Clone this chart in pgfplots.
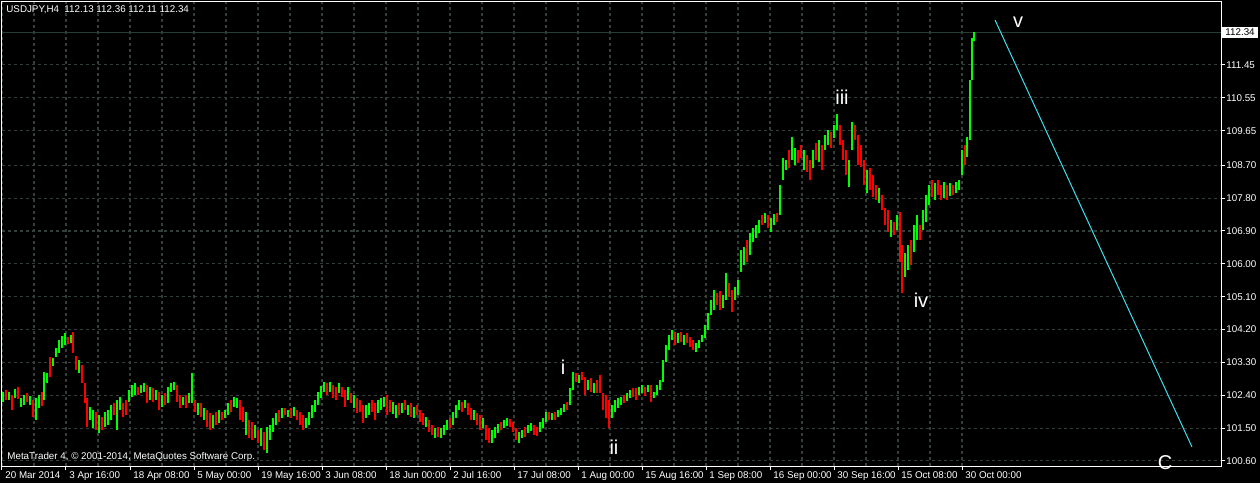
\documentclass[border=0pt]{standalone}
\usepackage{pgfplots}
\usepackage{pgfplotstable}
\pgfplotsset{compat=1.18}
\usepackage{fontspec}
\setmainfont{Liberation Sans}

\definecolor{bull}{RGB}{0,255,0}
\definecolor{bear}{RGB}{255,0,0}
\definecolor{gridc}{RGB}{50,64,57}
\definecolor{bidc}{RGB}{40,62,52}
\definecolor{wave}{RGB}{60,225,240}

% USDJPY H4 bars, x = bar position, lo/hi = price
\pgfplotstableread{
x lo hi
3 102.22 102.49
9 102.27 102.49
15 102.33 102.57
21 102.08 102.33
24 102.14 102.41
30 102.14 102.38
36 101.72 102.33
39 102.05 102.41
44 102.27 103.04
47 102.74 103.01
53 103.20 103.42
56 103.45 103.69
59 103.56 103.91
62 103.69 104.02
65 103.78 104.10
71 103.83 104.05
79 103.01 103.37
90 101.72 102.08
93 101.50 102.00
99 101.37 101.86
105 101.53 101.94
108 101.58 102.00
111 101.72 102.14
117 101.45 102.27
120 102.00 102.35
129 102.22 102.54
132 102.35 102.68
135 102.41 102.74
141 102.46 102.68
144 102.49 102.74
150 102.27 102.63
156 102.27 102.54
162 102.08 102.41
168 102.19 102.63
171 102.49 102.74
174 102.54 102.76
183 102.14 102.35
189 102.19 102.46
192 102.19 103.01
198 101.86 102.19
204 101.72 102.05
213 101.50 101.86
219 101.64 102.00
225 101.78 102.00
228 101.86 102.19
234 102.08 102.35
237 102.05 102.33
246 101.31 101.94
255 101.23 101.59
261 101.01 101.50
267 100.83 101.53
270 101.17 101.59
273 101.39 101.78
276 101.59 101.91
282 101.78 102.05
288 101.81 102.00
294 101.83 102.08
306 101.50 101.78
309 101.58 101.94
312 101.78 102.14
315 101.94 102.27
318 102.14 102.49
321 102.33 102.65
324 102.49 102.76
330 102.49 102.76
339 102.46 102.74
348 102.27 102.63
354 102.05 102.41
366 101.78 102.14
369 101.86 102.19
378 101.91 102.27
381 102.00 102.33
384 102.08 102.35
393 101.89 102.22
396 101.78 102.14
402 101.91 102.19
408 101.86 102.14
414 101.78 102.08
426 101.53 101.81
435 101.23 101.50
441 101.23 101.50
444 101.31 101.59
447 101.45 101.72
453 101.58 101.94
456 101.78 102.14
459 102.00 102.27
465 102.05 102.27
474 101.72 102.00
483 101.50 101.78
492 101.09 101.45
495 101.23 101.53
498 101.37 101.61
504 101.50 101.72
507 101.56 101.78
519 101.09 101.39
522 101.23 101.45
528 101.37 101.59
531 101.42 101.64
540 101.39 101.67
543 101.50 101.78
546 101.67 101.94
552 101.72 101.91
558 101.81 102.00
561 101.86 102.05
564 101.94 102.16
570 102.14 102.60
573 102.54 103.04
579 102.74 102.96
588 102.54 102.82
594 102.46 102.74
612 101.78 102.14
615 101.94 102.27
618 102.05 102.33
621 102.14 102.35
627 102.25 102.46
630 102.33 102.54
639 102.41 102.63
642 102.46 102.68
648 102.49 102.68
654 102.33 102.49
657 102.41 102.68
660 102.54 102.82
663 102.76 103.37
666 103.31 103.78
669 103.64 104.05
672 103.91 104.19
678 103.83 104.10
684 103.78 104.05
696 103.59 103.83
699 103.69 103.91
702 103.86 104.05
705 103.97 104.32
708 104.19 104.65
711 104.60 105.01
714 104.74 105.28
723 104.79 105.15
726 105.01 105.75
735 105.01 105.37
738 105.15 105.56
741 105.78 106.38
744 105.97 106.46
750 106.24 106.84
753 106.60 106.98
756 106.71 107.07
759 106.84 107.20
765 107.12 107.39
771 106.87 107.26
774 107.07 107.37
780 107.34 108.16
783 108.30 108.90
786 108.57 108.85
792 108.85 109.48
795 108.71 109.17
804 108.57 109.12
813 108.63 109.12
819 108.79 109.39
825 109.12 109.53
828 109.26 109.67
834 109.45 109.80
837 109.67 110.11
849 108.11 108.85
852 109.12 109.88
867 107.94 108.57
879 107.67 108.08
891 106.74 107.20
897 106.93 107.34
905 105.64 106.30
908 105.83 106.52
914 106.33 107.07
917 106.65 107.34
923 106.93 107.48
926 107.15 107.89
929 107.61 108.16
935 107.75 108.22
944 107.80 108.24
950 107.86 108.22
956 107.94 108.24
959 108.02 108.30
962 108.44 109.12
967 108.93 109.48
970 109.39 111.04
972 111.04 112.19
974 112.11 112.36
}\upbars

\pgfplotstableread{
x lo hi
6 102.27 102.54
12 102.00 102.41
18 102.30 102.63
27 102.22 102.46
33 101.81 102.27
42 102.11 102.49
50 102.90 103.45
68 103.80 103.99
73 103.56 104.13
76 103.09 103.48
82 102.74 103.23
85 102.19 102.74
87 101.53 102.33
96 101.45 101.94
102 101.45 101.81
114 101.86 102.19
123 101.81 102.19
126 101.86 102.27
138 102.41 102.63
147 102.19 102.68
153 102.22 102.60
159 102.00 102.49
165 102.14 102.46
177 102.22 102.68
180 102.05 102.41
186 102.05 102.41
195 101.94 102.27
201 101.81 102.19
207 101.53 102.00
210 101.45 101.91
216 101.58 101.94
222 101.72 101.94
231 101.94 102.27
240 101.72 102.27
243 101.67 102.08
249 101.23 101.72
252 101.17 101.67
258 101.09 101.45
264 100.90 101.39
279 101.67 102.00
285 101.86 102.05
291 101.78 102.05
297 101.72 102.00
300 101.58 101.94
303 101.45 101.86
327 102.41 102.74
333 102.33 102.68
336 102.27 102.63
342 102.35 102.63
345 102.08 102.54
351 102.19 102.46
357 101.91 102.33
360 101.94 102.27
363 101.64 102.14
372 101.94 102.27
375 101.72 102.19
387 101.86 102.41
390 101.94 102.27
399 101.86 102.19
405 102.00 102.27
411 101.81 102.19
417 101.86 102.14
420 101.67 102.00
423 101.59 101.91
429 101.39 101.72
432 101.31 101.59
438 101.26 101.53
450 101.50 101.78
462 101.94 102.22
468 101.86 102.19
471 101.72 102.05
477 101.58 101.91
480 101.45 101.86
486 101.17 101.59
489 101.09 101.50
501 101.45 101.67
510 101.53 101.75
513 101.39 101.67
516 101.17 101.50
525 101.26 101.53
534 101.31 101.59
537 101.28 101.53
549 101.72 101.94
555 101.72 101.94
567 102.00 102.22
576 102.76 103.01
582 102.82 103.04
585 102.41 102.90
591 102.49 102.87
597 102.46 102.82
600 102.46 102.96
603 102.00 102.46
606 101.78 102.41
609 101.50 102.27
624 102.19 102.41
633 102.35 102.60
636 102.27 102.60
645 102.38 102.63
651 102.22 102.68
675 103.78 104.13
681 103.86 104.13
687 103.83 104.10
690 103.72 103.99
693 103.64 103.91
717 104.87 105.20
720 104.74 105.25
729 105.09 105.48
732 104.68 105.28
747 106.05 106.65
762 107.07 107.34
768 106.98 107.34
777 107.15 107.39
789 108.63 109.12
798 108.76 109.12
801 108.90 109.26
807 108.52 108.98
810 108.30 108.85
816 108.85 109.31
822 108.57 109.26
831 109.17 109.61
840 109.26 109.80
843 108.85 109.39
846 108.44 109.12
855 109.39 109.80
858 108.71 109.53
861 108.65 109.26
864 108.16 108.85
870 108.02 108.63
873 107.83 108.44
876 107.75 108.16
882 107.48 107.89
885 107.07 107.53
888 106.87 107.48
894 106.79 107.15
900 106.05 107.42
902 105.20 106.52
911 105.97 106.65
920 106.65 107.07
932 107.83 108.30
938 107.89 108.30
941 107.75 108.16
947 107.75 108.16
953 107.89 108.16
965 108.71 109.26
}\downbars

\begin{document}
\begin{tikzpicture}
\useasboundingbox (0,0) rectangle (630pt,241.5pt);
\fill[black] (0,0) rectangle (630pt,241.5pt);
\begin{axis}[
    at={(1pt,8.5pt)}, anchor=south west,
    scale only axis,
    width=609.5pt, height=232pt,
    xmin=2, xmax=1221,
    ymin=100.46, ymax=113.175,
    clip mode=individual,
    axis line style={white, line width=0.5pt},
    tick style={white, line width=0.5pt},
    tick align=outside,
    major tick length=2pt, minor tick length=0pt,
    xtick pos=left, ytick pos=right,
    yticklabel pos=right,
    xtick={2,66,...,962},
    xticklabels={20 Mar 2014, 3 Apr 16:00, 18 Apr 08:00, 5 May 00:00,
        19 May 16:00, 3 Jun 08:00, 18 Jun 00:00, 2 Jul 16:00,
        17 Jul 08:00, 1 Aug 00:00, 15 Aug 16:00, 1 Sep 08:00,
        16 Sep 00:00, 30 Sep 16:00, 15 Oct 08:00, 30 Oct 00:00},
    minor x tick num=1,
    ytick={100.60,101.50,102.40,103.30,104.20,105.10,106.00,106.90,
        107.80,108.70,109.65,110.55,111.45},
    xticklabel style={anchor=north west, inner sep=0pt, xshift=1.5pt,
        yshift=-0.5pt, text=white, font=\fontsize{4.9}{5.5}\selectfont},
    yticklabel style={anchor=west, inner sep=0pt, xshift=0.5pt,
        text=white, font=\fontsize{4.9}{5.5}\selectfont,
        /pgf/number format/fixed, /pgf/number format/fixed zerofill,
        /pgf/number format/precision=2,
        /pgf/number format/assume math mode=true},
    xmajorgrids, xminorgrids, ymajorgrids,
    major grid style={draw=gridc, line width=0.55pt, dash pattern=on 1.5pt off 1.5pt},
    minor grid style={draw=gridc, line width=0.55pt, dash pattern=on 1.5pt off 1.5pt},
]

% bid line
\addplot[bidc, line width=0.5pt] coordinates {(2,112.34) (1221,112.34)};

\addplot[draw=none, mark=none,
    error bars/.cd, y dir=plus, y explicit, error mark=none,
    error bar style={draw=bull, solid, line width=1.35pt}]
    table[x=x, y=lo, y error expr=\thisrow{hi}-\thisrow{lo}] {\upbars};

\addplot[draw=none, mark=none,
    error bars/.cd, y dir=plus, y explicit, error mark=none,
    error bar style={draw=bear, solid, line width=1.35pt}]
    table[x=x, y=lo, y error expr=\thisrow{hi}-\thisrow{lo}] {\downbars};

% wave projection
\addplot[wave, line width=0.5pt] coordinates {(995,112.68) (1192,100.98)};

\begin{scope}[every node/.style={text=white, font=\fontsize{10}{12}\selectfont, inner sep=0pt}]
\node at (axis cs:563,103.17) {i};
\node at (axis cs:614,100.98) {ii};
\node at (axis cs:842,110.57) {iii};
\node at (axis cs:921,105.01) {iv};
\node at (axis cs:1018,112.63) {v};
\node at (axis cs:1165,100.55) {C};
\end{scope}

\node[fill=white, text=black, anchor=west, inner xsep=1.5pt, inner ysep=1pt,
    font=\fontsize{4.9}{5.5}\selectfont] at (axis cs:1221,112.34) [xshift=0.5pt] {112.34};
\end{axis}

\node[anchor=west, inner sep=0pt, text=white, font=\fontsize{4.9}{5.5}\selectfont]
    at (3pt,236.5pt) {USDJPY,H4\ \ 112.13 112.36 112.11 112.34};
\node[anchor=west, inner sep=0pt, text=white, font=\fontsize{4.9}{5.5}\selectfont]
    at (3.5pt,13pt) {MetaTrader 4, © 2001-2014, MetaQuotes Software Corp.};
\end{tikzpicture}
\end{document}
